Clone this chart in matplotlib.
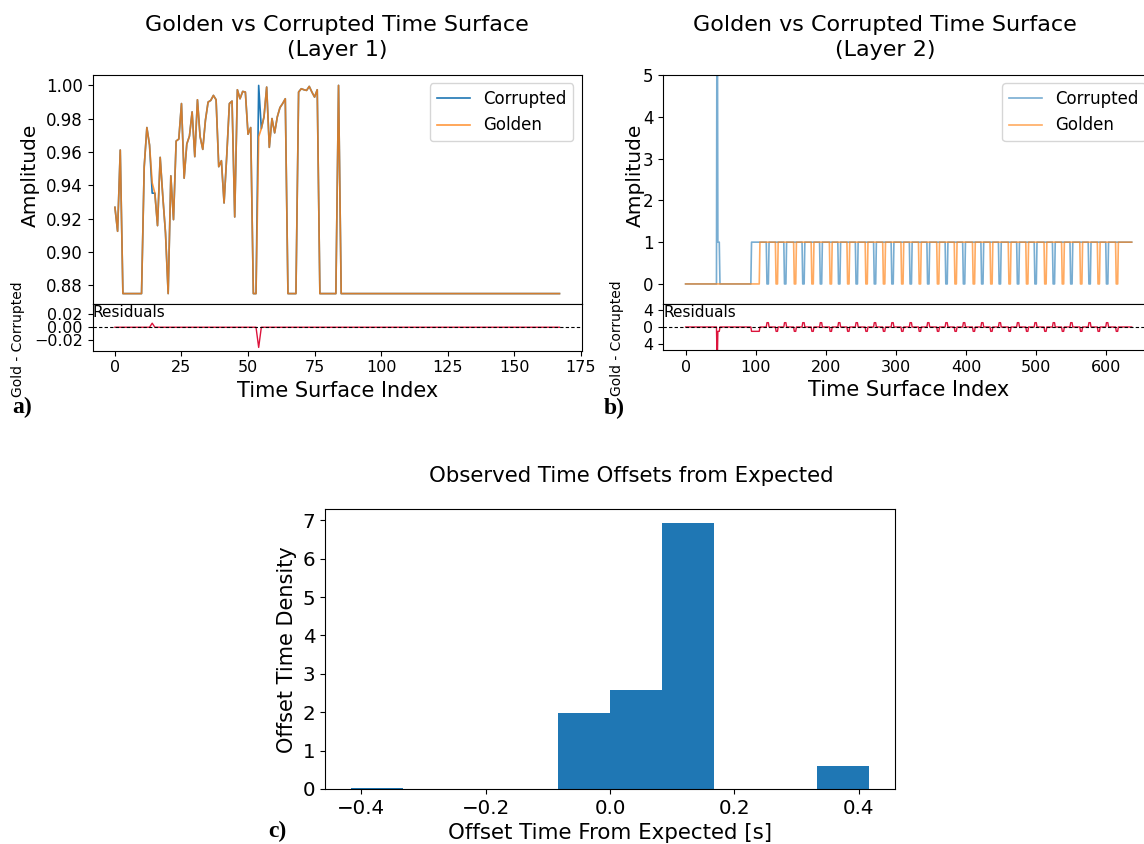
import numpy as np
import matplotlib.pyplot as plt
from matplotlib.ticker import MultipleLocator, FormatStrFormatter

# ---- Layer 1 time surface ----
golden_l1 = [0.9268, 0.9124, 0.9612, 0.875, 0.875, 0.875, 0.875, 0.875, 0.875, 0.875, 0.875,
             0.9512, 0.9747, 0.9642, 0.9415, 0.9353, 0.9158, 0.9568, 0.933, 0.9114, 0.875,
             0.9457, 0.9194, 0.9666, 0.9678, 0.9891, 0.9443, 0.9648, 0.9696, 0.9841, 0.9572,
             0.9914, 0.9692, 0.9616, 0.9791, 0.99, 0.991, 0.994, 0.9914, 0.9512, 0.9548,
             0.9294, 0.9576, 0.9891, 0.9906, 0.921, 0.9974, 0.992, 0.9964, 0.996, 0.9707,
             0.9747, 0.875, 0.875, 0.9692, 0.9741, 0.9811, 0.999, 0.9628, 0.9801, 0.9715,
             0.9811, 0.9867, 0.9891, 0.992, 0.875, 0.875, 0.875, 0.875, 0.996, 0.998,
             0.9974, 0.997, 0.9994, 0.996, 0.993, 0.9974, 0.875, 0.875, 0.875, 0.875,
             0.875, 0.875, 0.875, 1.0] + [0.875] * 83
# points where the corrupted surface differs from the golden one
corrupt_idx_l1 = [14, 54]
corrupt_val_l1 = [0.9353, 1.0]

# ---- Layer 2 time surface: step signals, breakpoints ----
n_l2 = 637
golden_rise_l2 = 106
corrupted_rise_l2 = 94
spike_idx_l2 = 45
spike_val_l2 = 9.7
plateau_l2 = [46, 47, 48]
dip_len_l2 = 3
corrupted_dips_l2 = [116, 141, 167, 192, 218, 243, 269, 294, 320, 345,
                     371, 396, 422, 447, 473, 498, 524, 549, 575, 600]
golden_dips_l2 = [129, 155, 180, 206, 231, 257, 282, 308, 333, 359,
                  384, 410, 435, 461, 486, 512, 537, 563, 588, 614]

# ---- Histogram of time offsets ----
bin_edges = np.linspace(-5 / 12, 5 / 12, 11)
bin_density = [0.03, 0, 0, 0, 1.97, 2.57, 6.94, 0, 0, 0.59]

# build series
golden_l1 = np.array(golden_l1)
corrupted_l1 = golden_l1.copy()
corrupted_l1[corrupt_idx_l1] = corrupt_val_l1
x_l1 = np.arange(len(golden_l1))

golden_l2 = np.zeros(n_l2)
golden_l2[golden_rise_l2:] = 1
for d in golden_dips_l2:
    golden_l2[d:d + dip_len_l2] = 0
corrupted_l2 = np.zeros(n_l2)
corrupted_l2[corrupted_rise_l2:] = 1
corrupted_l2[spike_idx_l2] = spike_val_l2
corrupted_l2[plateau_l2] = 1
for d in corrupted_dips_l2:
    corrupted_l2[d:d + dip_len_l2] = 0
x_l2 = np.arange(n_l2)

W, H = 1144, 844
fig = plt.figure(figsize=(W / 100, H / 100), dpi=100)


def box(left, top, right, bottom):
    return [left / W, 1 - bottom / H, (right - left) / W, (bottom - top) / H]


def time_surface(main_box, res_box, x, gold, corr, title, title_x, corr_alpha,
                 res_lim, res_ticks, res_labels, ylab_x, glab_x):
    ax = fig.add_axes(main_box)
    ax.plot(x, corr, color="C0", lw=1.2, alpha=corr_alpha, label="Corrupted")
    ax.plot(x, gold, color="C1", lw=1.2, alpha=0.8 if corr_alpha == 1 else 0.65,
            label="Golden")
    ax.set_title(title, fontsize=16, x=title_x, pad=14, linespacing=1.3)
    ax.set_ylabel("Amplitude", fontsize=14.5)
    ax.yaxis.set_label_coords(ylab_x, 0.56)
    ax.tick_params(labelsize=12, labelbottom=False)
    ax.legend(loc="upper right", fontsize=12)

    rax = fig.add_axes(res_box, sharex=ax)
    rax.plot(x, gold - corr, color="crimson", lw=1)
    rax.axhline(0, color="k", ls=(0, (3, 2)), lw=0.8)
    rax.set_ylim(-res_lim, res_lim)
    rax.set_yticks(res_ticks)
    rax.set_yticklabels(res_labels)
    rax.tick_params(labelsize=11.5)
    rax.text(0.0, 0.97, "Residuals", transform=rax.transAxes, fontsize=11,
             va="top", ha="left")
    rax.set_ylabel("Gold - Corrupted", fontsize=10)
    rax.yaxis.set_label_coords(glab_x, 0.25)
    rax.set_xlabel("Time Surface Index", fontsize=15)
    return ax, rax


# a) layer 1
ax_a, rax_a = time_surface(box(92.7, 75, 581.7, 304), box(92.7, 304, 581.7, 350.5),
                           x_l1, golden_l1, corrupted_l1,
                           "Golden vs Corrupted Time Surface\n(Layer 1)", 0.5, 1.0,
                           0.0355, [-0.02, 0, 0.02], ["\u22120.02", "0.00", "0.02"],
                           -0.108, -0.139)
ax_a.yaxis.set_major_locator(MultipleLocator(0.02))
ax_a.yaxis.set_major_formatter(FormatStrFormatter("%.2f"))

# b) layer 2 (axes run past the right edge of the picture, as in the reference)
ax_b, rax_b = time_surface(box(663.3, 75, 1154, 304), box(663.3, 304, 1154, 350),
                           x_l2, golden_l2, corrupted_l2,
                           "Golden vs Corrupted Time Surface\n(Layer 2)", 0.452, 0.6,
                           5.3, [-4, 0, 4], ["4", "0", "4"], -0.038, -0.08)
ax_b.set_ylim(-0.48, 5.0)

# c) histogram
axc = fig.add_axes(box(325, 509.3, 895, 789))
axc.bar(bin_edges[:-1], bin_density, width=np.diff(bin_edges), align="edge", color="C0")
axc.set_title("Observed Time Offsets from Expected", fontsize=15.3, x=0.537, pad=20)
axc.set_xlabel("Offset Time From Expected [s]", fontsize=15.4)
axc.set_ylabel("Offset Time Density", fontsize=15)
axc.yaxis.set_major_locator(MultipleLocator(1))
axc.tick_params(labelsize=14.3)

for lab, (px, py) in zip(["a)", "b)", "c)"], [(22, 407), (614, 408), (277, 831)]):
    fig.text(px / W, 1 - py / H, lab, fontsize=17, fontweight="bold",
             family="Liberation Serif", ha="center", va="center")

fig.savefig("out.png", dpi=100)
